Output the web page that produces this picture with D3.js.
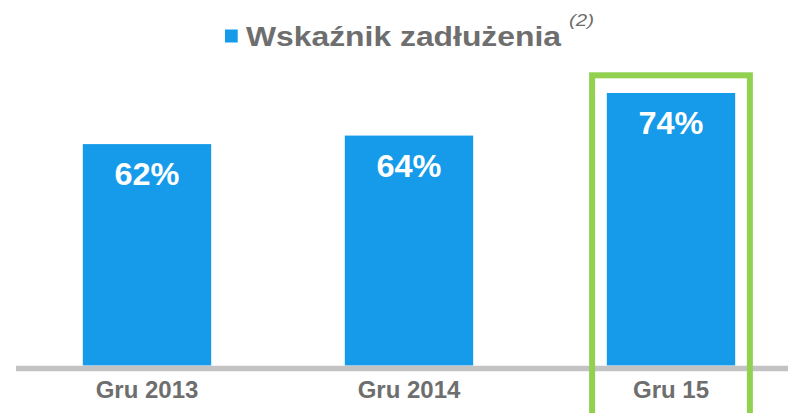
<!DOCTYPE html>
<html><head><meta charset="utf-8">
<script src="https://cdn.jsdelivr.net/npm/d3@7/dist/d3.min.js"></script>
<style>html,body{margin:0;padding:0;background:#fff;}svg{display:block;font-family:"Liberation Sans",Arial,sans-serif;}</style>
</head><body>
<svg id="c" width="788" height="413"></svg>
<script>
const categories = ["Gru 2013", "Gru 2014", "Gru 15"];
const values = [62, 64, 74];
const valueLabels = ["62%", "64%", "74%"];
const seriesName = "Wskaźnik zadłużenia";
const footnote = "(2)";
const highlighted = "Gru 15";

const svg = d3.select("#c");
const x = d3.scaleBand().domain(categories).range([16, 802]).paddingInner(0.51).paddingOuter(0.255);
const y = d3.scaleLinear().domain([10, 74]).range([365.5, 93]);

const blue = "#159BEA", grey = "#6E6E6E";

// bars
svg.selectAll("rect.bar").data(values).join("rect").attr("class","bar")
  .attr("x", (d,i) => x(categories[i]))
  .attr("width", x.bandwidth())
  .attr("y", d => y(d))
  .attr("height", d => y(10) - y(d))
  .attr("fill", blue);

// value labels
svg.selectAll("text.val").data(values).join("text").attr("class","val")
  .attr("x", (d,i) => x(categories[i]) + x.bandwidth()/2)
  .attr("y", d => y(d) + 41)
  .attr("text-anchor","middle")
  .attr("font-size", 32).attr("font-weight","bold").attr("fill","#fff")
  .attr("textLength", 65).attr("lengthAdjust","spacingAndGlyphs")
  .text((d,i) => valueLabels[i]);

// axis
const axis = d3.axisBottom(x).tickSize(0).tickPadding(0);
const g = svg.append("g").attr("transform","translate(0,368.5)").call(axis);
g.select(".domain").remove();
g.append("line").attr("x1",16).attr("x2",788).attr("y1",0).attr("y2",0)
  .attr("stroke","#C3C3C3").attr("stroke-width",5.5);
g.selectAll(".tick text").attr("dy",0).attr("y",29.8)
  .attr("font-size",24).attr("font-weight","bold").attr("fill",grey)
  .attr("font-family","'Liberation Sans',Arial,sans-serif");

// highlight frame
const hx = x(highlighted);
svg.append("rect")
  .attr("x", hx - 14.7).attr("y", 75.3)
  .attr("width", x.bandwidth() + 29.4).attr("height", 400)
  .attr("fill","none").attr("stroke","#92D050").attr("stroke-width",6);

// title / legend
const tg = svg.append("g");
tg.append("rect").attr("x",225).attr("y",29.5).attr("width",12.7).attr("height",13).attr("fill",blue);
tg.append("text").attr("x",246).attr("y",46).attr("font-size",28).attr("font-weight","bold").attr("fill",grey)
  .attr("textLength",315).attr("lengthAdjust","spacingAndGlyphs").text(seriesName);
tg.append("text").attr("x",569).attr("y",25.7).attr("font-size",17).attr("font-style","italic").attr("fill",grey)
  .attr("textLength",25).attr("lengthAdjust","spacingAndGlyphs").text(footnote);
</script>
</body></html>
